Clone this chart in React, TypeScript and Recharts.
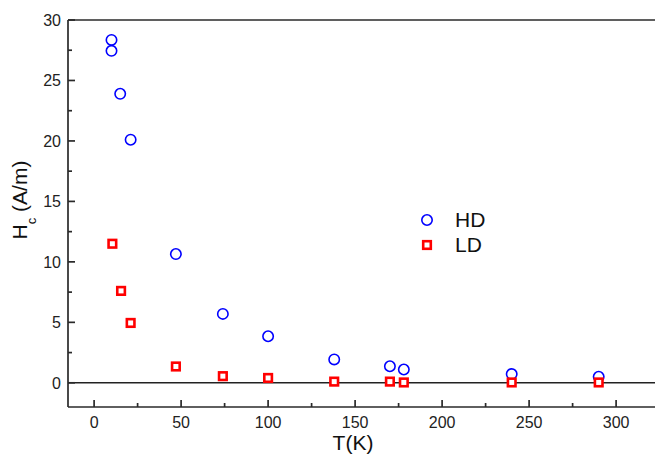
import { ScatterChart, Scatter, XAxis, YAxis, ReferenceLine, Legend } from 'recharts'

const T_HD = [10, 10, 15, 21, 47, 74, 100, 138, 170, 178, 240, 290]
const HD = [28.35, 27.45, 23.9, 20.1, 10.65, 5.7, 3.85, 1.93, 1.37, 1.1, 0.72, 0.5]
const T_LD = [10.5, 15.5, 21, 47, 74, 100, 138, 170, 178, 240, 290]
const LD = [11.5, 7.6, 4.95, 1.35, 0.55, 0.4, 0.1, 0.1, 0.03, 0.03, 0.03]

const X_MAJOR = [0, 50, 100, 150, 200, 250, 300]
const X_MINOR = [25, 75, 125, 175, 225, 275]
const Y_MAJOR = [0, 5, 10, 15, 20, 25, 30]
const Y_MINOR = [2.5, 7.5, 12.5, 17.5, 22.5, 27.5]

const hdData = T_HD.map((t, i) => ({ t, v: HD[i] }))
const ldData = T_LD.map((t, i) => ({ t, v: LD[i] }))

const FONT = '"Liberation Sans", Arial, sans-serif'
const AXIS = '#2a2a2a'

// inward ticks, minor ones shorter and unlabeled
const XTick = (props: any) => {
  const { x, y, payload } = props
  const major = X_MAJOR.includes(payload.value)
  return (
    <g>
      <path d={`M${x},${y}V${y - (major ? 7 : 4)}`} stroke={AXIS} strokeWidth={1.7} />
      {major && (
        <text x={x} y={y + 21} textAnchor="middle" fontSize={16} fontFamily={FONT} fill="#222">
          {payload.value}
        </text>
      )}
    </g>
  )
}

const YTick = (props: any) => {
  const { x, y, payload } = props
  const major = Y_MAJOR.includes(payload.value)
  return (
    <g>
      <path d={`M${x},${y}H${x + (major ? 7 : 4)}`} stroke={AXIS} strokeWidth={1.7} />
      {major && (
        <text x={x - 7} y={y} dy="0.36em" textAnchor="end" fontSize={16} fontFamily={FONT} fill="#222">
          {payload.value}
        </text>
      )}
    </g>
  )
}

const Circle = (p: any) => (
  <circle cx={p.cx} cy={p.cy} r={5.2} fill="none" stroke="#0000ff" strokeWidth={1.6} />
)
const Square = (p: any) => (
  <rect x={p.cx - 3.8} y={p.cy - 3.8} width={7.6} height={7.6} fill="#fff" stroke="#ff0000" strokeWidth={2.6} />
)

const LegendBox = () => (
  <div style={{ fontFamily: FONT, fontSize: 21, color: '#111', lineHeight: '25px' }}>
    {[['HD', 'c'], ['LD', 's']].map(([name, kind]) => (
      <div key={name} style={{ display: 'flex', alignItems: 'center', height: 25 }}>
        <svg width={16} height={16} style={{ marginRight: 20 }}>
          {kind === 'c'
            ? <circle cx={8} cy={8} r={5.2} fill="none" stroke="#0000ff" strokeWidth={1.6} />
            : <rect x={4.2} y={4.2} width={7.6} height={7.6} fill="#fff" stroke="#ff0000" strokeWidth={2.6} />}
        </svg>
        <span>{name}</span>
      </div>
    ))}
  </div>
)

export default function App() {
  return (
    <div style={{ position: 'absolute', left: 0, top: 0, width: 655, height: 454, overflow: 'hidden', background: '#fff' }}>
      <ScatterChart width={670} height={454} margin={{ top: 20, right: 10.4, bottom: 0, left: 0 }}>
        <XAxis
          type="number" dataKey="t" domain={[-15, 325]} ticks={[...X_MAJOR, ...X_MINOR]} interval={0}
          height={47} tickSize={0} tickMargin={0} tickLine={false} tick={<XTick />}
          axisLine={{ stroke: AXIS, strokeWidth: 1.7 }}
          label={{
            content: () => (
              <text x={353} y={450} textAnchor="middle" fontSize={21} fontFamily={FONT} fill="#111">T(K)</text>
            ),
          }}
        />
        <YAxis
          type="number" dataKey="v" domain={[-2, 30]} ticks={[...Y_MAJOR, ...Y_MINOR]} interval={0}
          width={68} tickSize={0} tickMargin={0} tickLine={false} tick={<YTick />}
          axisLine={{ stroke: AXIS, strokeWidth: 1.7 }}
          label={{
            content: () => (
              <text x={27} y={200} transform="rotate(-90, 27, 200)" textAnchor="middle" fontSize={21} fontFamily={FONT} fill="#111">
                H<tspan fontSize={13} dy={9}>c</tspan><tspan dy={-9}> (A/m)</tspan>
              </text>
            ),
          }}
        />
        <ReferenceLine y={30} stroke={AXIS} strokeWidth={1.7} />
        <ReferenceLine y={0} stroke="#222" strokeWidth={1.5} />
        <Legend
          layout="horizontal" verticalAlign="middle" align="center"
          wrapperStyle={{ position: 'absolute', left: 419, top: 207, width: 100 }}
          content={<LegendBox />}
        />
        <Scatter name="HD" data={hdData} shape={<Circle />} isAnimationActive={false} />
        <Scatter name="LD" data={ldData} shape={<Square />} isAnimationActive={false} />
      </ScatterChart>
    </div>
  )
}
